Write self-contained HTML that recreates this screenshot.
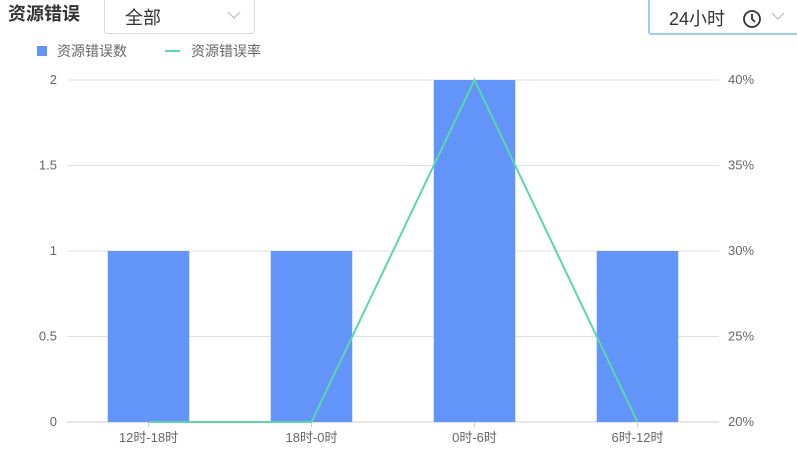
<!DOCTYPE html>
<html><head><meta charset="utf-8"><style>
body{margin:0;width:797px;height:451px;background:#fff;overflow:hidden;font-family:"Liberation Sans","Noto Sans CJK SC",sans-serif;position:relative}
.t{position:absolute;left:8px;top:0px;font-size:18px;font-weight:bold;color:#333}
.sel{position:absolute;box-sizing:border-box;border:1px solid #d9d9d9;border-radius:3px;background:#fff;font-size:18px;color:#333}
</style></head><body>
<div class="t">资源错误</div>
<div class="sel" style="left:104px;top:-4px;width:151px;height:38px"><span style="position:absolute;left:20px;top:7px">全部</span><svg style="position:absolute;left:122px;top:14px" width="14" height="9" viewBox="0 0 14 9"><path d="M1 1l6 6 6-6" fill="none" stroke="#bbb" stroke-width="1.2"/></svg></div>
<div class="sel" style="left:648px;top:-4px;width:152px;height:39px;border:2px solid #9ccbff"><span style="position:absolute;left:19px;top:7px">24小时</span>
<svg style="position:absolute;left:92px;top:11px" width="20" height="20" viewBox="0 0 20 20"><circle cx="10" cy="10" r="8" fill="none" stroke="#333" stroke-width="1.8"/><path d="M10 5v5l3 3" fill="none" stroke="#333" stroke-width="1.8"/></svg>
<svg style="position:absolute;left:121px;top:14px" width="14" height="9" viewBox="0 0 14 9"><path d="M1 1l6 6 6-6" fill="none" stroke="#bbb" stroke-width="1.2"/></svg></div>
<svg id="c" width="797" height="451" style="position:absolute;left:0;top:0;pointer-events:none"></svg>
<script>
const categories=["12时-18时","18时-0时","0时-6时","6时-12时"];
const errorCounts=[1,1,2,1];
const errorRates=[20,20,40,20];
const leftTicks=[0,0.5,1,1.5,2];
const leftTickLabels=["0","0.5","1","1.5","2"];
const rightTicks=[20,25,30,35,40];
const rightTickLabels=["20%","25%","30%","35%","40%"];
const NS="http://www.w3.org/2000/svg";
const svg=document.getElementById('c');
const X0=67,X1=719,Y0=422,Y1=80;
const band=(X1-X0)/categories.length;
const xC=i=>X0+band*(i+0.5);
const yL=v=>Y0-(v-0)/(2-0)*(Y0-Y1);
const yR=v=>Y0-(v-20)/(40-20)*(Y0-Y1);
function mk(t,a,p){const e=document.createElementNS(NS,t);for(const k in a)e.setAttribute(k,a[k]);(p||svg).appendChild(e);return e;}
leftTicks.forEach((v,i)=>{
 const g=mk('line',{x1:X0,x2:X1,y1:yL(v),y2:yL(v),stroke:i==0?'#ccc':'#e0e0e0','stroke-width':1});
 
 
 const t=mk('text',{x:X0-10,y:yL(v)+4,'text-anchor':'end','font-size':13,fill:'#666'});t.textContent=leftTickLabels[i];
 
 
});
rightTicks.forEach((v,i)=>{
 const t=mk('text',{x:X1+9,y:yR(v)+4,'font-size':13,fill:'#666'});t.textContent=rightTickLabels[i];
 
 
});
categories.forEach((c,i)=>{
 const bw=band*0.5;
 const b=mk('rect',{x:xC(i)-bw/2,y:yL(errorCounts[i]),width:bw,height:Y0-yL(errorCounts[i]),fill:'#6394f9'});
 
 
 mk('line',{x1:xC(i),x2:xC(i),y1:Y0,y2:Y0+5,stroke:'#ccc'});
 const t=mk('text',{x:xC(i),y:Y0+20,'text-anchor':'middle','font-size':13,fill:'#666'});t.textContent=c;
 
 
});
const pl=mk('polyline',{points:errorRates.map((v,i)=>xC(i)+','+yR(v)).join(' '),fill:'none',stroke:'#5ad8a6','stroke-width':2});


const lg=mk('g',{});


mk('rect',{x:37,y:46,width:10,height:10,fill:'#6394f9'},lg);
let t1=mk('text',{x:57,y:56,'font-size':14,fill:'#666'},lg);t1.textContent='资源错误数';
mk('line',{x1:165,x2:180,y1:51,y2:51,stroke:'#5ad8a6','stroke-width':2},lg);
let t2=mk('text',{x:191,y:56,'font-size':14,fill:'#666'},lg);t2.textContent='资源错误率';
</script>
</body></html>
